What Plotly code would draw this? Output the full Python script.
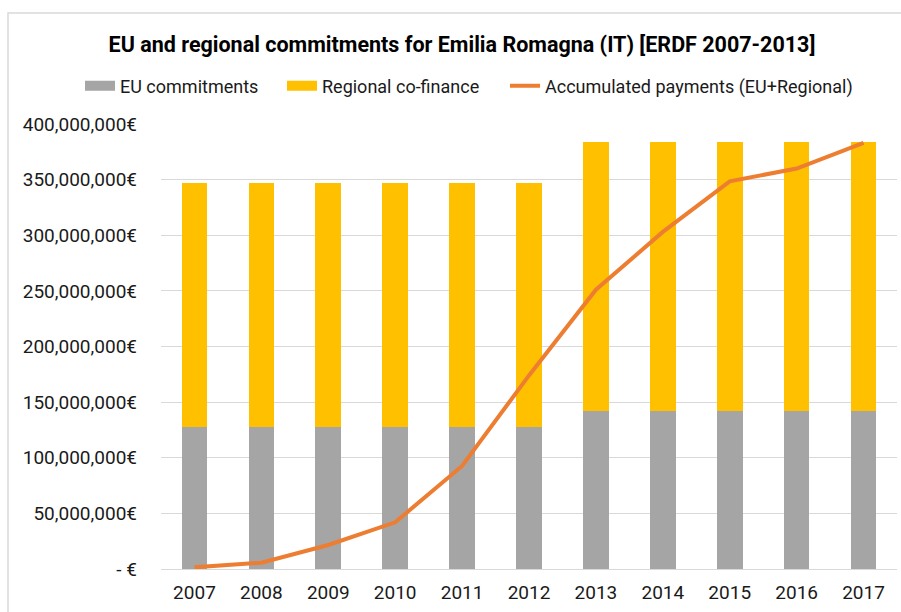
import plotly.graph_objects as go

years = ["2007", "2008", "2009", "2010", "2011", "2012", "2013", "2014", "2015", "2016", "2017"]
eu_commitments = [127.7e6, 127.7e6, 127.7e6, 127.7e6, 127.7e6, 127.7e6,
                  142.4e6, 142.4e6, 142.4e6, 142.4e6, 142.4e6]
total_commitments = [347.0e6, 347.0e6, 347.0e6, 347.0e6, 347.0e6, 347.0e6,
                     383.6e6, 383.6e6, 383.6e6, 383.6e6, 383.6e6]
regional_cofinance = [t - e for t, e in zip(total_commitments, eu_commitments)]
accumulated_payments = [1.5e6, 5.7e6, 21.6e6, 42.0e6, 92.6e6, 174.0e6,
                        251.0e6, 303.0e6, 348.5e6, 360.0e6, 383.0e6]

tick_vals = [0, 50e6, 100e6, 150e6, 200e6, 250e6, 300e6, 350e6, 400e6]
tick_text = ["- €", "50,000,000€", "100,000,000€", "150,000,000€", "200,000,000€",
             "250,000,000€", "300,000,000€", "350,000,000€", "400,000,000€"]

FONT = "Roboto, sans-serif"
GRAY, YELLOW, ORANGE = "#A5A5A5", "#FFC000", "#ED7D31"

# plot area in pixels: x 161..897, y 124..569
PX_L, PX_W, PX_T, PX_H = 161, 736, 124, 445


def px_x(px):
    return (px - PX_L) / PX_W


def px_y(py):
    return 1 + (PX_T - py) / PX_H


fig = go.Figure()
fig.add_trace(go.Bar(x=years, y=eu_commitments, name="EU commitments", showlegend=False,
                     marker=dict(color=GRAY, line=dict(width=0))))
fig.add_trace(go.Bar(x=years, y=regional_cofinance, name="Regional co-finance", showlegend=False,
                     marker=dict(color=YELLOW, line=dict(width=0))))
fig.add_trace(go.Scatter(x=years, y=accumulated_payments, name="Accumulated payments (EU+Regional)",
                         mode="lines", line=dict(color=ORANGE, width=4), legend="legend3"))
# legend-only entries drawn as wide swatches (like the original's rectangles)
fig.add_trace(go.Scatter(x=[None], y=[None], mode="lines", name="EU commitments",
                         line=dict(color=GRAY, width=10), legend="legend"))
fig.add_trace(go.Scatter(x=[None], y=[None], mode="lines", name="Regional co-finance",
                         line=dict(color=YELLOW, width=10), legend="legend2"))

leg_common = dict(orientation="h", xanchor="left", yanchor="middle", y=px_y(86),
                  font=dict(family=FONT, size=18, color="#1a1a1a"),
                  itemwidth=30, bgcolor="rgba(0,0,0,0)")

fig.update_layout(
    width=901, height=612,
    barmode="stack", bargap=0.616,
    paper_bgcolor="white", plot_bgcolor="white",
    font=dict(family=FONT, size=19, color="#1a1a1a"),
    margin=dict(l=161, r=4, t=124, b=43),
    title=dict(text="<b>EU and regional commitments for Emilia Romagna (IT) [ERDF 2007-2013]</b>",
               x=462/901, xanchor="center", xref="container",
               y=1 - 44/612, yanchor="middle", yref="container",
               font=dict(family=FONT, size=21.5, color="#000000")),
    legend=dict(x=px_x(123 - 43), **leg_common),
    legend2=dict(x=px_x(325 - 43), **leg_common),
    legend3=dict(x=px_x(548 - 43), **leg_common),
    showlegend=True,
)
fig.update_xaxes(showgrid=False, showline=False, ticks="", tickfont=dict(size=19),
                 ticklabelstandoff=10)
fig.update_yaxes(range=[0, 400e6], tickvals=tick_vals, ticktext=tick_text,
                 showgrid=True, gridcolor="#D9D9D9", gridwidth=1,
                 zeroline=True, zerolinecolor="#D9D9D9", zerolinewidth=1,
                 showline=False, ticks="", ticklabelstandoff=23, tickfont=dict(size=19))

fig.add_shape(type="rect", xref="paper", yref="paper",
              x0=px_x(8), x1=px_x(912), y0=px_y(630), y1=px_y(13),
              line=dict(color="#D9D9D9", width=1.5), fillcolor="rgba(0,0,0,0)", layer="below")

fig.write_html("out.html", config={"displayModeBar": False},
               post_script="document.body.style.margin='0';")
